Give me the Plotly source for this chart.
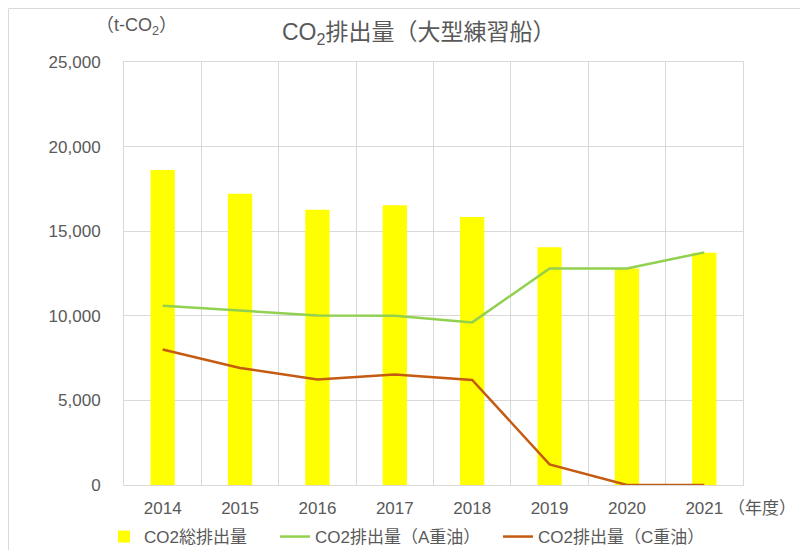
import plotly.graph_objects as go

years = ["2014", "2015", "2016", "2017", "2018", "2019", "2020", "2021"]
total = [18620, 17220, 16270, 16530, 15840, 14050, 12800, 13730]
a_oil = [10600, 10300, 10020, 10000, 9610, 12800, 12800, 13750]
c_oil = [8010, 6920, 6240, 6530, 6210, 1220, 0, 0]

names = ["CO2総排出量", "CO2排出量（A重油）", "CO2排出量（C重油）"]
colors = ["#FFFF00", "#92D050", "#C55A11"]

FONT = "Liberation Sans, Noto Sans CJK JP, sans-serif"
GRAY = "#595959"

# figure geometry (page places the figure 8px in from the window corner)
W, H = 800, 542
L, T, PW, PH = 116, 54, 619, 423
B = H - T - PH
R = W - L - PW


def px(fx):
    return (fx - L) / PW


def py(fy):
    return (T + PH - fy) / PH


fig = go.Figure()
fig.add_trace(go.Bar(x=years, y=total, name=names[0], legend="legend",
                     marker=dict(color=colors[0], line_width=0)))
fig.add_trace(go.Scatter(x=years, y=a_oil, name=names[1], mode="lines", legend="legend2",
                         line=dict(color=colors[1], width=2.5)))
fig.add_trace(go.Scatter(x=years, y=c_oil, name=names[2], mode="lines", legend="legend3",
                         line=dict(color=colors[2], width=2.5)))

leg_common = dict(orientation="h", xanchor="left", yanchor="middle", y=py(529),
                  font=dict(size=17, color=GRAY, family=FONT), itemwidth=30,
                  bgcolor="rgba(0,0,0,0)")

fig.update_layout(
    width=W, height=H,
    margin=dict(l=L, r=R, t=T, b=B, autoexpand=False),
    paper_bgcolor="white", plot_bgcolor="white",
    font=dict(family=FONT, color=GRAY, size=17),
    bargap=0.686,
    showlegend=True,
    legend=dict(x=px(96), **leg_common),
    legend2=dict(x=px(267), **leg_common),
    legend3=dict(x=px(490), **leg_common),
    xaxis=dict(type="category", tickson="boundaries", showgrid=True, gridcolor="#D9D9D9",
               gridwidth=1, showline=True, linecolor="#D9D9D9", mirror=True,
               ticks="", ticklabelstandoff=8, tickfont=dict(size=17, color=GRAY)),
    yaxis=dict(range=[0, 25000], dtick=5000, tickformat=",d", showgrid=True,
               gridcolor="#D9D9D9", gridwidth=1, showline=True, linecolor="#D9D9D9",
               mirror=True, ticks="", ticklabelstandoff=19, zeroline=False,
               tickfont=dict(size=17, color=GRAY)),
)

fig.add_annotation(text="CO<sub>2</sub>排出量（大型練習船）", xref="paper", yref="paper",
                   x=px(410), y=py(25), xanchor="center", yanchor="middle",
                   showarrow=False, font=dict(size=23, color=GRAY, family=FONT))
fig.add_annotation(text="（t-CO<sub>2</sub>）", xref="paper", yref="paper",
                   x=px(128), y=py(18), xanchor="center", yanchor="middle",
                   showarrow=False, font=dict(size=18, color=GRAY, family=FONT))
fig.add_annotation(text="（年度）", xref="paper", yref="paper",
                   x=px(754), y=py(500), xanchor="center", yanchor="middle",
                   showarrow=False, font=dict(size=17, color=GRAY, family=FONT))

# outer chart frame
fig.add_shape(type="rect", xref="paper", yref="paper",
              x0=px(0.5), x1=px(W + 20), y0=py(H + 20), y1=py(0.5),
              line=dict(color="#D9D9D9", width=1), fillcolor="rgba(0,0,0,0)", layer="below")

fig.write_html("out.html")
